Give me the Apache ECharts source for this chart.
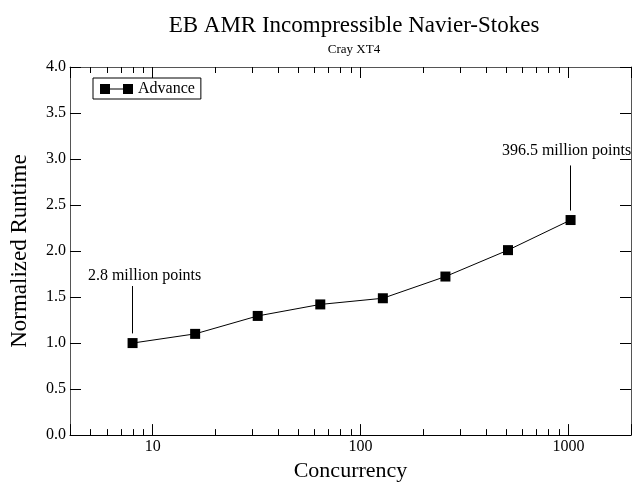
<!DOCTYPE html>
<html>
<head>
<meta charset="utf-8">
<script src="https://cdn.jsdelivr.net/npm/echarts@6/dist/echarts.min.js"></script>
<style>html,body{margin:0;padding:0;background:#fff}#c{width:634px;height:487px}</style>
</head>
<body>
<div id="c"></div>
<script>
var concurrency = [8, 16, 32, 64, 128, 256, 512, 1024];
var advance = [1.0, 1.10, 1.295, 1.42, 1.487, 1.723, 2.01, 2.337];
var xTickLabels = [10, 100, 1000];
var xMinorTicks = [5, 6, 7, 8, 9, 20, 30, 40, 50, 60, 70, 80, 90, 200, 300, 400, 500, 600, 700, 800, 900];
var annotationTexts = ['2.8 million points', '396.5 million points'];
var annotationX = [8, 1024];
var annotationFrom = [1.105, 2.44];
var annotationTo = [1.62, 2.93];

var FONT = '"Liberation Serif", "DejaVu Serif", serif';
var chart = echarts.init(document.getElementById('c'), null, {renderer: 'canvas'});

var seriesData = concurrency.map(function (c, i) { return [c, advance[i]]; });
var labelOpts = [{offset: [12, 0], distance: 2.5}, {offset: [-4, 0], distance: 7}];
var markData = annotationTexts.map(function (t, i) {
  return [
    {coord: [annotationX[i], annotationFrom[i]], name: t, label: labelOpts[i]},
    {coord: [annotationX[i], annotationTo[i]]}
  ];
});

function xAxisBase(pos) {
  return {
    type: 'log', logBase: 10, min: 4, max: 2000, position: pos,
    axisLine: {show: true, onZero: false, lineStyle: {color: pos === 'bottom' ? '#000' : '#555', width: 1}},
    axisTick: {show: true, inside: true, length: 11, lineStyle: {color: '#000'}},
    splitLine: {show: false},
    minorTick: {show: false},
    axisLabel: {show: pos === 'bottom', fontFamily: FONT, fontSize: 16, color: '#000', margin: 4,
      formatter: function (v) { return xTickLabels.indexOf(Math.round(v)) >= 0 ? String(Math.round(v)) : ''; }}
  };
}
var xb = xAxisBase('bottom');
xb.name = 'Concurrency';
xb.nameLocation = 'middle';
xb.nameGap = 20;
xb.nameTextStyle = {fontFamily: FONT, fontSize: 22, color: '#000'};

function yAxisBase(pos) {
  return {
    type: 'value', min: 0, max: 4, interval: 0.5, position: pos,
    axisLine: {show: true, onZero: false, lineStyle: {color: '#555', width: 1}},
    axisTick: {show: true, inside: true, length: 11, lineStyle: {color: '#000'}},
    splitLine: {show: false},
    axisLabel: {show: pos === 'left', fontFamily: FONT, fontSize: 16, color: '#000', margin: 4,
      formatter: function (v) { return v.toFixed(1); }}
  };
}
var yl = yAxisBase('left');
yl.name = 'Normalized Runtime';
yl.nameLocation = 'middle';
yl.nameGap = 39;
yl.nameTextStyle = {fontFamily: FONT, fontSize: 23, color: '#000'};

chart.setOption({
  animation: false,
  backgroundColor: '#fff',
  title: {
    text: 'EB AMR Incompressible Navier-Stokes',
    subtext: 'Cray XT4',
    left: 354, top: 14, textAlign: 'center', itemGap: 6, padding: 0,
    textStyle: {fontFamily: FONT, fontSize: 23, fontWeight: 'normal', color: '#000'},
    subtextStyle: {fontFamily: FONT, fontSize: 13, color: '#000'}
  },
  legend: {
    data: ['Advance'], left: 93, top: 78, orient: 'vertical',
    borderColor: '#000', borderWidth: 1, backgroundColor: '#fff',
    padding: [3, 6, 2, 7], itemWidth: 33, itemHeight: 10, itemGap: 0,
    icon: 'path://M0,0H10V10H0Z M10,4.5H23V5.5H10Z M23,0H33V10H23Z',
    textStyle: {fontFamily: FONT, fontSize: 16, color: '#000'}
  },
  grid: {left: 66, right: -1, top: 67, bottom: 40, containLabel: false},
  xAxis: [xb, xAxisBase('top')],
  yAxis: [yl, yAxisBase('right')],
  series: [
    {
      name: 'Advance', type: 'line', data: seriesData,
      symbol: 'rect', symbolSize: 10,
      itemStyle: {color: '#000'},
      lineStyle: {color: '#000', width: 1},
      markLine: {
        silent: true, symbol: 'none',
        lineStyle: {color: '#000', width: 1, type: 'solid'},
        label: {show: true, position: 'end', formatter: '{b}',
          fontFamily: FONT, fontSize: 16, color: '#000'},
        data: markData
      }
    },
    {
      name: 'minorTicks', type: 'custom', silent: true,
      data: xMinorTicks.map(function (v) { return [v, 0]; }),
      encode: {x: 0, y: 1},
      renderItem: function (params, api) {
        var cs = params.coordSys;
        var x = Math.round(api.coord([api.value(0), 0])[0]) + 0.5;
        var yb = cs.y + cs.height, yt = cs.y;
        return {
          type: 'group',
          children: [
            {type: 'line', shape: {x1: x, y1: yb, x2: x, y2: yb - 6}, style: {stroke: '#000', lineWidth: 1}},
            {type: 'line', shape: {x1: x, y1: yt, x2: x, y2: yt + 6}, style: {stroke: '#000', lineWidth: 1}}
          ]
        };
      }
    }
  ]
});
</script>
</body>
</html>
